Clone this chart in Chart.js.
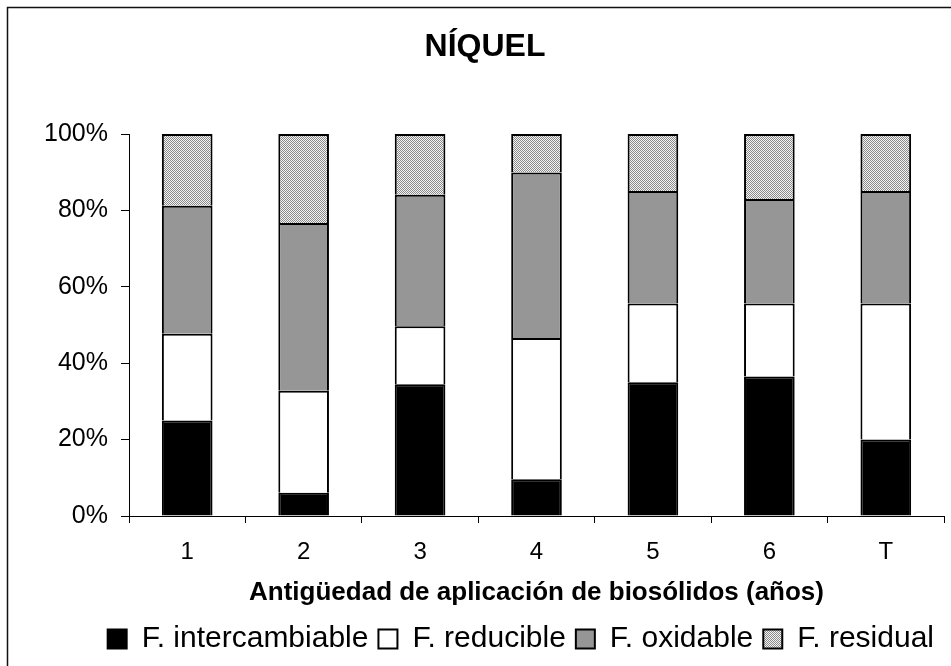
<!DOCTYPE html>
<html>
<head>
<meta charset="utf-8">
<title>Níquel</title>
<script src="https://cdn.jsdelivr.net/npm/chart.js@4.4.1/dist/chart.umd.min.js"></script>
<style>
  html, body { margin: 0; padding: 0; background: #fff; }
  #wrap { position: relative; width: 951px; height: 666px; }
</style>
</head>
<body>
<div id="wrap"><canvas id="niquelChart" width="951" height="666"></canvas></div>
<script>
// Datos (porcentaje de cada fraccion por antiguedad)
const categorias = ['1', '2', '3', '4', '5', '6', 'T'];
const intercambiable = [25.0, 6.1, 34.5, 9.6, 35.0, 36.5, 20.0];
const reducible = [22.7, 26.7, 15.2, 37.0, 20.6, 19.1, 35.6];
const oxidable = [33.5, 43.9, 34.4, 43.3, 29.5, 27.4, 29.5];
const residual = [18.8, 23.3, 15.9, 10.1, 14.9, 17.0, 14.9];
const ticksY = [0, 20, 40, 60, 80, 100];

const FONT = "'Liberation Sans', Arial, sans-serif";

// trama punteada para la fraccion residual
function makePattern() {
    const c = document.createElement('canvas');
    c.width = 2;
    c.height = 2;
    const g = c.getContext('2d');
    g.fillStyle = '#f4f4f4';
    g.fillRect(0, 0, 2, 2);
    g.fillStyle = '#8a8a8a';
    g.fillRect(0, 0, 1, 1);
    g.fillRect(1, 1, 1, 1);
    return g.createPattern(c, 'repeat');
}

// marco exterior del grafico (solo se ve el borde izquierdo y el superior)
const marco = {
    id: 'marco',
    afterDraw(chart) {
        const ctx = chart.ctx;
        ctx.save();
        ctx.strokeStyle = '#111';
        ctx.lineWidth = 1.5;
        ctx.beginPath();
        ctx.moveTo(7.5, chart.height);
        ctx.lineTo(7.5, 7.5);
        ctx.lineTo(chart.width, 7.5);
        ctx.stroke();
        ctx.restore();
    }
};

function serie(label, data, color) {
    return {
        label: label,
        data: data,
        backgroundColor: color,
        borderColor: '#000',
        borderWidth: 2,
        categoryPercentage: 1.0,
        barPercentage: 0.435
    };
}

const ctx = document.getElementById('niquelChart');
new Chart(ctx, {
    type: 'bar',
    data: {
        labels: categorias,
        datasets: [
            serie('F. intercambiable', intercambiable, '#000000'),
            serie('F. reducible', reducible, '#ffffff'),
            serie('F. oxidable', oxidable, '#969696'),
            serie('F. residual', residual, makePattern())
        ]
    },
    options: {
        responsive: false,
        animation: false,
        events: [],
        layout: { padding: { left: 26, right: 7, top: 0, bottom: 2 } },
        scales: {
            x: {
                stacked: true,
                grid: { drawOnChartArea: false, drawTicks: true, tickLength: 7, color: '#000' },
                border: { display: true, color: '#000', width: 1 },
                ticks: { color: '#000', padding: 15, font: { family: FONT, size: 24 } },
                title: {
                    display: true,
                    text: 'Antigüedad de aplicación de biosólidos (años)',
                    color: '#000',
                    font: { family: FONT, size: 26, weight: 'bold' },
                    padding: { top: 0, bottom: 6 }
                },
                afterFit(scale) { scale.height = 98; }
            },
            y: {
                stacked: true,
                min: 0,
                max: 100,
                grid: { drawOnChartArea: false, drawTicks: true, tickLength: 8, color: '#000' },
                border: { display: true, color: '#000', width: 1 },
                afterBuildTicks(scale) { scale.ticks = ticksY.map(v => ({ value: v })); },
                ticks: {
                    color: '#000',
                    padding: 13,
                    font: { family: FONT, size: 25 },
                    callback: v => v + '%'
                },
                afterFit(scale) { scale.width = 103; }
            }
        },
        plugins: {
            title: {
                display: true,
                text: 'NÍQUEL',
                color: '#000',
                font: { family: FONT, size: 32, weight: 'bold' },
                padding: { top: 28, bottom: 67.6 }
            },
            legend: {
                position: 'bottom',
                align: 'end',
                labels: {
                    color: '#000',
                    font: { family: FONT, size: 30 },
                    boxWidth: 19,
                    boxHeight: 19,
                    padding: 10
                }
            },
            tooltip: { enabled: false }
        }
    },
    plugins: [marco]
});
</script>
</body>
</html>
